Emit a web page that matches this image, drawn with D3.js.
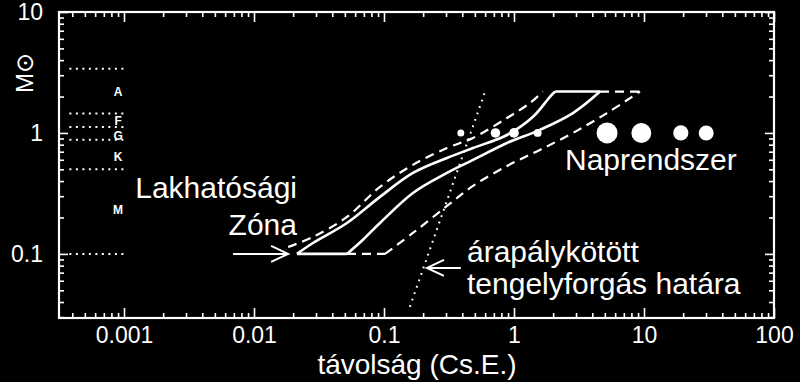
<!DOCTYPE html>
<html>
<head>
<meta charset="utf-8">
<script src="https://cdn.jsdelivr.net/npm/d3@7"></script>
<style>
  body { margin: 0; background: #000; }
  text { font-family: "Liberation Sans", Arial, "DejaVu Sans", sans-serif; fill: #fff; }
</style>
</head>
<body>
<script>
const width = 800;
const height = 382;

// axis ticks
const xTickValues = [0.001, 0.01, 0.1, 1, 10, 100];
const xTickLabels = ["0.001", "0.01", "0.1", "1", "10", "100"];
const yTickValues = [0.1, 1, 10];
const yTickLabels = ["0.1", "1", "10"];

// habitable zone edges [distance AU, mass Msun]
const innerSolid = [[0.0214, 0.1], [0.0284, 0.123], [0.0519, 0.18], [0.0931, 0.296], [0.167, 0.467],
  [0.305, 0.621], [0.484, 0.751], [0.883, 0.962], [1.4, 1.36], [1.89, 1.99], [2.07, 2.2]];
const outerSolid = [[0.0519, 0.1], [0.0689, 0.131], [0.0931, 0.18], [0.167, 0.319], [0.305, 0.467],
  [0.484, 0.598], [0.883, 0.826], [1.58, 1.06], [2.84, 1.46], [4.59, 2.2]];
const innerDashed = [[0.0183, 0.114], [0.0284, 0.138], [0.0519, 0.202], [0.0931, 0.358], [0.167, 0.545],
  [0.305, 0.751], [0.484, 0.91], [0.883, 1.33], [1.33, 1.77], [1.67, 2.2]];
const outerDashed = [[0.102, 0.1], [0.167, 0.149], [0.305, 0.249], [0.484, 0.365],
  [0.883, 0.533], [1.58, 0.724], [2.84, 1.0], [5.19, 1.46], [9.31, 2.2]];
const solidBottom = [[0.0214, 0.1], [0.0519, 0.1]];
const dashedBottom = [[0.0519, 0.1], [0.102, 0.1]];
const solidTop = [[2.07, 2.2], [4.59, 2.2]];
const dashedTop = [[4.59, 2.2], [9.31, 2.2]];

// tidal locking limit
const tidalLine = [[0.158, 0.0365], [0.598, 2.18]];

// spectral classes
const spectralBounds = [3.4, 1.45, 1.12, 0.88, 0.5, 0.1];
const spectralClasses = ["A", "F", "G", "K", "M"];
const classMass = [2.2, 1.26, 0.95, 0.63, 0.23];

// solar system
const planetNames = ["Merkúr", "Vénusz", "Föld", "Mars", "Jupiter", "Szaturnusz", "Uránusz", "Neptunusz"];
const planetDist = [0.39, 0.72, 1, 1.52, 5.2, 9.54, 19.2, 30.1];
const planetRadius = [0.38, 0.95, 1, 0.53, 11.2, 9.45, 4.0, 3.88];

const x = d3.scaleLog().domain([Math.pow(10, -3.5), 100]).range([59, 774]);
const y = d3.scaleLog().domain([Math.pow(10, -1.53), 10]).range([318, 12]);
const r = d3.scalePow().exponent(0.3).domain([0.38, 11.2]).range([3.5, 10.5]);

const svg = d3.select("body").append("svg")
  .attr("width", width)
  .attr("height", height)
  .style("background", "#000");

const minorX = x.ticks().filter(d => xTickValues.indexOf(d) < 0);
const minorY = y.ticks().filter(d => yTickValues.indexOf(d) < 0);

function styleAxis(g) {
  g.select(".domain").remove();
  g.selectAll("line").attr("stroke", "#fff").attr("stroke-width", 1.6);
  g.selectAll("text").attr("fill", "#fff").style("font-size", "23px")
    .style("font-family", "'Liberation Sans', Arial, sans-serif");
}

// bottom
svg.append("g").attr("transform", "translate(0,318)")
  .call(d3.axisBottom(x).tickValues(xTickValues).tickSize(-10).tickPadding(9)
    .tickFormat((d, i) => xTickLabels[i]))
  .call(styleAxis);
svg.append("g").attr("transform", "translate(0,318)")
  .call(d3.axisBottom(x).tickValues(minorX).tickSize(-5).tickFormat(""))
  .call(styleAxis);
// top
svg.append("g").attr("transform", "translate(0,12)")
  .call(d3.axisTop(x).tickValues(xTickValues).tickSize(-10).tickFormat(""))
  .call(styleAxis);
svg.append("g").attr("transform", "translate(0,12)")
  .call(d3.axisTop(x).tickValues(minorX).tickSize(-5).tickFormat(""))
  .call(styleAxis);
// left
svg.append("g").attr("transform", "translate(59,0)")
  .call(d3.axisLeft(y).tickValues(yTickValues).tickSize(-9).tickPadding(16)
    .tickFormat((d, i) => yTickLabels[i]))
  .call(styleAxis);
svg.append("g").attr("transform", "translate(59,0)")
  .call(d3.axisLeft(y).tickValues(minorY).tickSize(-5).tickFormat(""))
  .call(styleAxis);
// right
svg.append("g").attr("transform", "translate(774,0)")
  .call(d3.axisRight(y).tickValues(yTickValues).tickSize(-9).tickFormat(""))
  .call(styleAxis);
svg.append("g").attr("transform", "translate(774,0)")
  .call(d3.axisRight(y).tickValues(minorY).tickSize(-5).tickFormat(""))
  .call(styleAxis);

// frame
svg.append("rect")
  .attr("x", x.range()[0]).attr("y", y.range()[1])
  .attr("width", x.range()[1] - x.range()[0])
  .attr("height", y.range()[0] - y.range()[1])
  .attr("fill", "none").attr("stroke", "#fff").attr("stroke-width", 2.2);

// spectral class lines
svg.append("g").selectAll("line")
  .data(spectralBounds).enter().append("line")
  .attr("x1", x(0.00038)).attr("x2", x(0.001))
  .attr("y1", d => y(d)).attr("y2", d => y(d))
  .attr("stroke", "#fff").attr("stroke-width", 2)
  .attr("stroke-dasharray", "2,4.5");

svg.append("g").selectAll("text")
  .data(spectralClasses).enter().append("text")
  .attr("x", x(0.0009)).attr("y", (d, i) => y(classMass[i]))
  .attr("dy", "0.35em")
  .attr("text-anchor", "middle")
  .style("font-size", "12px").style("font-weight", "bold")
  .text(d => d);

const curve = d3.line().x(d => x(d[0])).y(d => y(d[1])).curve(d3.curveCatmullRom.alpha(0.5));
const straight = d3.line().x(d => x(d[0])).y(d => y(d[1]));

[innerSolid, outerSolid].forEach(pts => {
  svg.append("path").attr("d", curve(pts))
    .attr("fill", "none").attr("stroke", "#fff").attr("stroke-width", 2.6);
});
[solidBottom, solidTop].forEach(pts => {
  svg.append("path").attr("d", straight(pts))
    .attr("fill", "none").attr("stroke", "#fff").attr("stroke-width", 2.6);
});
[innerDashed, outerDashed].forEach(pts => {
  svg.append("path").attr("d", curve(pts))
    .attr("fill", "none").attr("stroke", "#fff").attr("stroke-width", 2.2)
    .attr("stroke-dasharray", "9,6");
});
[dashedBottom, dashedTop].forEach(pts => {
  svg.append("path").attr("d", straight(pts))
    .attr("fill", "none").attr("stroke", "#fff").attr("stroke-width", 2.2)
    .attr("stroke-dasharray", "9,6");
});

// tidal locking
svg.append("path").attr("d", straight(tidalLine))
  .attr("fill", "none").attr("stroke", "#fff").attr("stroke-width", 2)
  .attr("stroke-dasharray", "1.8,5");

// planets
svg.append("g").selectAll("circle")
  .data(planetNames).enter().append("circle")
  .attr("cx", (d, i) => x(planetDist[i]))
  .attr("cy", y(1))
  .attr("r", (d, i) => r(planetRadius[i]))
  .attr("fill", "#fff");

// arrows
function arrow(from, to) {
  const x1 = x(from[0]), y1 = y(from[1]), x2 = x(to[0]), y2 = y(to[1]);
  const dir = x2 > x1 ? -1 : 1;
  const g = svg.append("g").attr("stroke", "#fff").attr("stroke-width", 2).attr("fill", "none");
  g.append("line").attr("x1", x1).attr("y1", y1).attr("x2", x2).attr("y2", y2);
  g.append("path").attr("d", `M${x2 + dir * 17},${y2 - 8}L${x2},${y2}L${x2 + dir * 17},${y2 + 8}`);
}
arrow([0.0069, 0.1], [0.0183, 0.1]);
arrow([0.39, 0.0766], [0.214, 0.0766]);

// labels
const labels = [
  { t: "Lakhatósági", x: 297, y: 198, a: "end" },
  { t: "Zóna", x: 297, y: 235, a: "end" },
  { t: "Naprendszer", x: 565, y: 170, a: "start" },
  { t: "árapálykötött", x: 467, y: 262, a: "start" },
  { t: "tengelyforgás határa", x: 467, y: 294, a: "start" }
];
svg.append("g").selectAll("text")
  .data(labels).enter().append("text")
  .attr("x", d => d.x).attr("y", d => d.y)
  .attr("text-anchor", d => d.a)
  .style("font-size", "30px")
  .text(d => d.t);

svg.append("text")
  .attr("x", 417).attr("y", 374)
  .attr("text-anchor", "middle")
  .style("font-size", "28px")
  .text("távolság (Cs.E.)");

svg.append("text")
  .attr("transform", "translate(33,73) rotate(-90)")
  .attr("text-anchor", "middle")
  .style("font-size", "24px")
  .text("M⊙");
</script>
</body>
</html>
